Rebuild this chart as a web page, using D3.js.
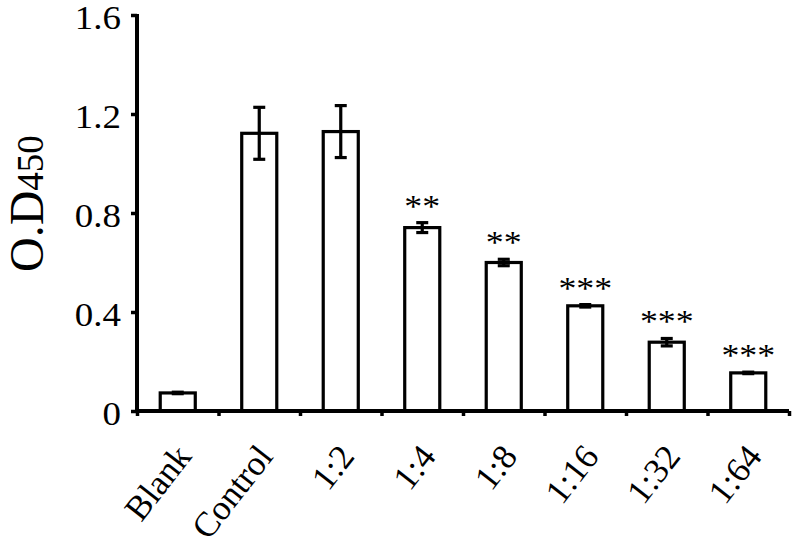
<!DOCTYPE html>
<html>
<head>
<meta charset="utf-8">
<script src="https://cdn.jsdelivr.net/npm/d3@7/dist/d3.min.js"></script>
<style>
  html, body { margin: 0; padding: 0; background: #fff; }
  svg { display: block; }
  text { font-family: "Liberation Serif", "Times New Roman", serif; fill: #000; }
</style>
</head>
<body>
<svg id="chart" width="800" height="555"></svg>
<script>
const categories = ["Blank", "Control", "1:2", "1:4", "1:8", "1:16", "1:32", "1:64"];
const values = [0.073, 1.122, 1.129, 0.741, 0.600, 0.425, 0.278, 0.154];
const errors = [0.003, 0.105, 0.105, 0.02, 0.013, 0.005, 0.015, 0.003];
const stars = ["", "", "", "**", "**", "***", "***", "***"];
const yTicks = [0, 0.4, 0.8, 1.2, 1.6];
const yDomain = [0, 1.6];

(function () {
const svg = d3.select("#chart");
const mLeft = 137, mRight = 789, mTop = 15, mBottom = 411;
const stretch = 1.12;

const y = d3.scaleLinear().domain(yDomain).range([mBottom, mTop]);
const x = d3.scaleBand().domain(categories).range([mLeft, mRight])
  .paddingInner(0.57).paddingOuter(0.285);
const xb = d3.scaleLinear().domain([0, categories.length]).range([mLeft, mRight]);

// bars
svg.append("g").selectAll("rect").data(categories).join("rect")
  .attr("x", d => x(d))
  .attr("y", (d, i) => y(values[i]))
  .attr("width", x.bandwidth())
  .attr("height", (d, i) => y(0) - y(values[i]))
  .attr("fill", "#fff").attr("stroke", "#000").attr("stroke-width", 3.2);

// error bars
const eg = svg.append("g").attr("stroke", "#000").attr("stroke-width", 3.2);
categories.forEach((c, i) => {
  const cx = x(c) + x.bandwidth() / 2;
  const y1 = y(values[i] + errors[i]), y2 = y(values[i] - errors[i]);
  eg.append("line").attr("x1", cx).attr("x2", cx).attr("y1", y1).attr("y2", y2);
  eg.append("line").attr("x1", cx - 6).attr("x2", cx + 6).attr("y1", y1).attr("y2", y1);
  eg.append("line").attr("x1", cx - 6).attr("x2", cx + 6).attr("y1", y2).attr("y2", y2);
});

// significance stars
svg.append("g").selectAll("text").data(categories).join("text")
  .attr("transform", (d, i) =>
    `translate(${x(d) + x.bandwidth() / 2},${y(values[i] + errors[i]) - 6}) scale(${stretch},1)`)
  .attr("text-anchor", "middle")
  .attr("font-size", 32)
  .text((d, i) => stars[i]);

// y axis
const yAxis = svg.append("g").attr("transform", `translate(${mLeft},0)`)
  .call(d3.axisLeft(y).tickValues(yTicks)
    .tickFormat(d => d === 0 ? "0" : d3.format(".1f")(d))
    .tickSize(6).tickPadding(10));
yAxis.select(".domain").attr("stroke-width", 4).attr("d", `M0,${mTop - 1}V${mBottom + 2}`);
yAxis.selectAll(".tick line").attr("stroke-width", 3.5);
yAxis.selectAll(".tick text").attr("font-size", 33)
  .attr("font-family", "Liberation Serif, serif")
  .attr("x", -16 / stretch)
  .attr("dy", "0.4em")
  .attr("transform", `scale(${stretch},1)`);

// x axis boundary ticks
const xAxis = svg.append("g").attr("transform", `translate(0,${mBottom})`)
  .call(d3.axisBottom(xb).ticks(categories.length).tickFormat("").tickSize(5));
xAxis.select(".domain").attr("stroke-width", 4).attr("d", `M${mLeft - 2},0H${mRight}`);
xAxis.selectAll(".tick line").attr("stroke-width", 3.5);

// x labels
const xLab = svg.append("g").attr("transform", `translate(0,${mBottom})`)
  .call(d3.axisBottom(x).tickSize(0));
xLab.select(".domain").remove();
xLab.selectAll(".tick text")
  .attr("font-size", 35).attr("font-family", "Liberation Serif, serif")
  .attr("x", 0).attr("y", 0).attr("dy", 0)
  .attr("text-anchor", "end")
  .attr("transform", "translate(15,46) rotate(-52)");

// y title
const yt = svg.append("text")
  .attr("transform", "translate(43,272) rotate(-90)")
  .attr("text-anchor", "start");
yt.append("tspan").attr("font-size", 48).text("O.D");
yt.append("tspan").attr("font-size", 37).text("450");
})();
</script>
</body>
</html>
